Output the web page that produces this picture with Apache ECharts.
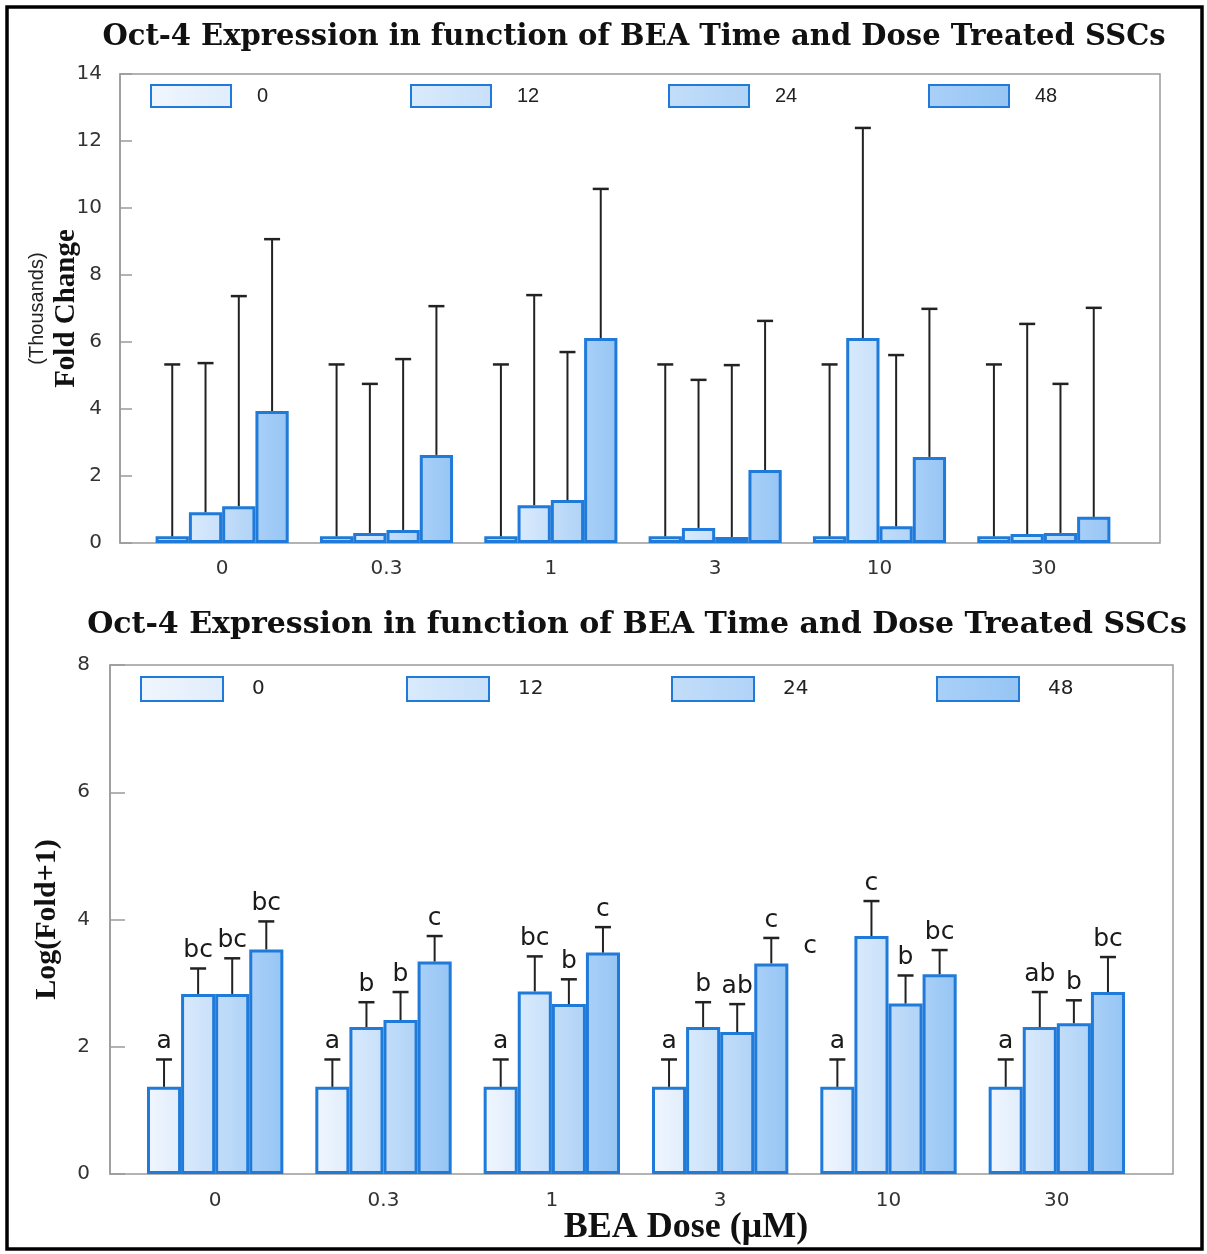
<!DOCTYPE html>
<html>
<head>
<meta charset="utf-8">
<script src="https://cdn.jsdelivr.net/npm/echarts@6/dist/echarts.min.js"></script>
<style>
  html, body { margin: 0; padding: 0; background: #ffffff; }
  #chart { width: 1207px; height: 1254px; }
</style>
</head>
<body>
<div id="chart"></div>
<script>
// BEA doses (µM) on the x axis, treatment time (h) as series
const doses = ['0', '0.3', '1', '3', '10', '30'];
const hours = ['0', '12', '24', '48'];

// Fold change (thousands): means and SD per treatment time
const foldMean0h  = [0.20, 0.20, 0.20, 0.20, 0.20, 0.20];
const foldMean12h = [0.92, 0.30, 1.13, 0.45, 6.12, 0.27];
const foldMean24h = [1.10, 0.39, 1.28, 0.18, 0.50, 0.30];
const foldMean48h = [3.94, 2.63, 6.12, 2.18, 2.57, 0.78];
const foldSd0h  = [5.13, 5.13, 5.13, 5.13, 5.13, 5.13];
const foldSd12h = [4.45, 4.45, 6.27, 4.42, 6.27, 6.27];
const foldSd24h = [6.27, 5.10, 4.42, 5.13, 5.11, 4.45];
const foldSd48h = [5.13, 4.44, 4.45, 4.45, 4.42, 6.24];

// Log(Fold+1): means and SD per treatment time
const logMean0h  = [1.37, 1.37, 1.37, 1.37, 1.37, 1.37];
const logMean12h = [2.83, 2.31, 2.87, 2.31, 3.74, 2.31];
const logMean24h = [2.83, 2.42, 2.67, 2.23, 2.68, 2.37];
const logMean48h = [3.53, 3.34, 3.48, 3.31, 3.14, 2.86];
const logSd0h  = [0.43, 0.43, 0.43, 0.43, 0.43, 0.43];
const logSd12h = [0.40, 0.39, 0.55, 0.39, 0.55, 0.55];
const logSd24h = [0.56, 0.44, 0.39, 0.44, 0.44, 0.36];
const logSd48h = [0.44, 0.40, 0.40, 0.40, 0.38, 0.55];

// Significance letters over the log bars
const letters0h  = ['a', 'a', 'a', 'a', 'a', 'a'];
const letters12h = ['bc', 'b', 'bc', 'b', 'c', 'ab'];
const letters24h = ['bc', 'b', 'b', 'ab', 'b', 'b'];
const letters48h = ['bc', 'c', 'c', 'c', 'bc', 'bc'];
const strayLetter = 'c';

const yTicksTop = { min: 0, max: 14, interval: 2 };
const yTicksBottom = { min: 0, max: 8, interval: 2 };

const titleText = 'Oct-4 Expression in function of BEA Time and Dose Treated SSCs';
const xAxisTitle = 'BEA Dose (\u03bcM)';

// ---- styling ----
const fills = [
  ['#f0f6fe', '#e0edfc'],
  ['#d9eafc', '#c8e0fa'],
  ['#c3ddf9', '#b0d3f7'],
  ['#a9d0f8', '#96c5f4']
];
const edge = '#1f7ad9';
const CAT_GAP = 0.19;
const sans = '"DejaVu Sans", sans-serif';
const serif = '"Liberation Serif", "DejaVu Serif", serif';

function fillOf(k) {
  return {
    type: 'linear', x: 0, y: 0, x2: 1, y2: 0,
    colorStops: [{ offset: 0, color: fills[k][0] }, { offset: 1, color: fills[k][1] }]
  };
}

function barSeries(k, data, axisIdx) {
  return {
    type: 'bar',
    name: hours[k],
    xAxisIndex: axisIdx,
    yAxisIndex: axisIdx,
    data: data,
    barGap: '0%',
    barCategoryGap: (CAT_GAP * 100) + '%',
    itemStyle: { color: fillOf(k), borderColor: edge, borderWidth: 3 },
    emphasis: { disabled: true },
    z: 2
  };
}

// Error bars (and optional letters) drawn through the axis scales
function errorSeries(means, sds, letterSets, axisIdx) {
  const data = [];
  means.forEach((arr, k) => {
    arr.forEach((m, i) => data.push([i, k, m, m + sds[k][i]]));
  });
  return {
    type: 'custom',
    xAxisIndex: axisIdx,
    yAxisIndex: axisIdx,
    data: data,
    encode: { x: 0, y: 3 },
    z: 5,
    silent: true,
    renderItem: function (params, api) {
      const cat = api.value(0), k = api.value(1);
      const lo = api.coord([cat, api.value(2)]);
      const hi = api.coord([cat, api.value(3)]);
      const band = api.size([1, 0])[0];
      const groupW = band * (1 - CAT_GAP);
      const bw = groupW / 4;
      const x = lo[0] - groupW / 2 + bw * (k + 0.5);
      const capHalf = 8;
      const children = [
        { type: 'line', shape: { x1: x, y1: lo[1], x2: x, y2: hi[1] },
          style: { stroke: '#222', lineWidth: 2 } },
        { type: 'line', shape: { x1: x - capHalf, y1: hi[1], x2: x + capHalf, y2: hi[1] },
          style: { stroke: '#222', lineWidth: 2.5 } }
      ];
      if (letterSets) {
        children.push({
          type: 'text',
          style: {
            x: x, y: hi[1] - 5, text: letterSets[k][cat],
            align: 'center', verticalAlign: 'bottom',
            font: '25px ' + sans, fill: '#1a1a1a'
          }
        });
      }
      return { type: 'group', children: children };
    }
  };
}

function legendItem(k, left, top, w, h, pad, fontSize, family) {
  return {
    data: [hours[k]],
    left: left, top: top, padding: 0,
    itemWidth: w, itemHeight: h,
    icon: 'rect',
    selectedMode: false,
    textStyle: { fontSize: fontSize, fontFamily: family, color: '#222', padding: [4, 0, 0, pad] }
  };
}

const hiddenCat = (g) => ({ type: 'category', gridIndex: g, data: doses, show: false });

const chart = echarts.init(document.getElementById('chart'), null, { renderer: 'canvas' });

const option = {
  animation: false,
  backgroundColor: '#ffffff',
  grid: [
    // frames with the y axes
    { left: 120, right: 47, top: 74, bottom: 711, show: true, borderColor: '#9a9a9a', borderWidth: 1.5 },
    { left: 140, right: 81, top: 74, bottom: 711 },
    { left: 110, right: 34, top: 665, bottom: 80, show: true, borderColor: '#9a9a9a', borderWidth: 1.5 },
    { left: 131, right: 66, top: 665, bottom: 80 }
  ],
  xAxis: [
    hiddenCat(0),
    {
      type: 'category', gridIndex: 1, data: doses,
      axisLine: { show: false }, axisTick: { show: false },
      axisLabel: { margin: 16, fontSize: 20, fontFamily: sans, color: '#333' }
    },
    hiddenCat(2),
    {
      type: 'category', gridIndex: 3, data: doses,
      axisLine: { show: false }, axisTick: { show: false },
      axisLabel: { margin: 17, fontSize: 20, fontFamily: sans, color: '#333' }
    }
  ],
  yAxis: [
    {
      type: 'value', gridIndex: 0, min: yTicksTop.min, max: yTicksTop.max, interval: yTicksTop.interval,
      axisLine: { show: true, lineStyle: { color: '#9a9a9a', width: 1.5 } },
      axisTick: { show: true, inside: true, length: 12, lineStyle: { color: '#9a9a9a', width: 1.5 } },
      splitLine: { show: false },
      axisLabel: { margin: 18, fontSize: 20, fontFamily: sans, color: '#333' },
      name: '{t|(Thousands)}\n{f|Fold Change}',
      nameLocation: 'middle', nameGap: 38, nameRotate: 90, nameMoveOverlap: false,
      nameTextStyle: {
        rich: {
          t: { fontFamily: '"Liberation Sans", sans-serif', fontSize: 20, color: '#222', lineHeight: 30, align: 'center' },
          f: { fontFamily: serif, fontWeight: 'bold', fontSize: 29, color: '#111', lineHeight: 30, align: 'center' }
        }
      }
    },
    { type: 'value', gridIndex: 1, min: yTicksTop.min, max: yTicksTop.max, show: false, splitLine: { show: false } },
    {
      type: 'value', gridIndex: 2, min: yTicksBottom.min, max: yTicksBottom.max, interval: yTicksBottom.interval,
      axisLine: { show: true, lineStyle: { color: '#9a9a9a', width: 1.5 } },
      axisTick: { show: true, inside: true, length: 15, lineStyle: { color: '#9a9a9a', width: 1.5 } },
      splitLine: { show: false },
      axisLabel: { margin: 20, fontSize: 20, fontFamily: sans, color: '#333' },
      name: 'Log(Fold+1)', nameLocation: 'middle', nameGap: 48, nameRotate: 90, nameMoveOverlap: false,
      nameTextStyle: { fontFamily: serif, fontWeight: 'bold', fontSize: 30, color: '#111' }
    },
    { type: 'value', gridIndex: 3, min: yTicksBottom.min, max: yTicksBottom.max, show: false, splitLine: { show: false } }
  ],
  legend: [
    legendItem(0, 150, 84, 80, 22, 21, 20, '"Liberation Sans", sans-serif'),
    legendItem(1, 410, 84, 80, 22, 21, 20, '"Liberation Sans", sans-serif'),
    legendItem(2, 668, 84, 80, 22, 21, 20, '"Liberation Sans", sans-serif'),
    legendItem(3, 928, 84, 80, 22, 21, 20, '"Liberation Sans", sans-serif'),
    legendItem(0, 140, 676, 82, 24, 24, 20, sans),
    legendItem(1, 406, 676, 82, 24, 24, 20, sans),
    legendItem(2, 671, 676, 82, 24, 24, 20, sans),
    legendItem(3, 936, 676, 82, 24, 24, 20, sans)
  ],
  series: [
    barSeries(0, foldMean0h, 1),
    barSeries(1, foldMean12h, 1),
    barSeries(2, foldMean24h, 1),
    barSeries(3, foldMean48h, 1),
    errorSeries([foldMean0h, foldMean12h, foldMean24h, foldMean48h],
                [foldSd0h, foldSd12h, foldSd24h, foldSd48h], null, 1),
    barSeries(0, logMean0h, 3),
    barSeries(1, logMean12h, 3),
    barSeries(2, logMean24h, 3),
    barSeries(3, logMean48h, 3),
    errorSeries([logMean0h, logMean12h, logMean24h, logMean48h],
                [logSd0h, logSd12h, logSd24h, logSd48h],
                [letters0h, letters12h, letters24h, letters48h], 3)
  ],
  graphic: [
    {
      type: 'rect', silent: true, z: 100,
      shape: { x: 7, y: 7, width: 1195, height: 1242 },
      style: { fill: 'none', stroke: '#000', lineWidth: 3.5 }
    },
    {
      type: 'text', silent: true,
      style: { x: 634, y: 37, text: titleText, align: 'center', verticalAlign: 'middle',
               font: 'bold 29px "DejaVu Serif", serif', fill: '#111' }
    },
    {
      type: 'text', silent: true,
      style: { x: 637, y: 625, text: titleText, align: 'center', verticalAlign: 'middle',
               font: 'bold 30px "DejaVu Serif", serif', fill: '#111' }
    },
    {
      type: 'text', silent: true,
      style: { x: 686, y: 1228, text: xAxisTitle, align: 'center', verticalAlign: 'middle',
               font: 'bold 36px "Liberation Serif", serif', fill: '#111' }
    },
    {
      type: 'text', silent: true,
      style: { x: 810, y: 946, text: strayLetter, align: 'center', verticalAlign: 'middle',
               font: '25px ' + sans, fill: '#1a1a1a' }
    }
  ]
};

chart.setOption(option);
</script>
</body>
</html>
